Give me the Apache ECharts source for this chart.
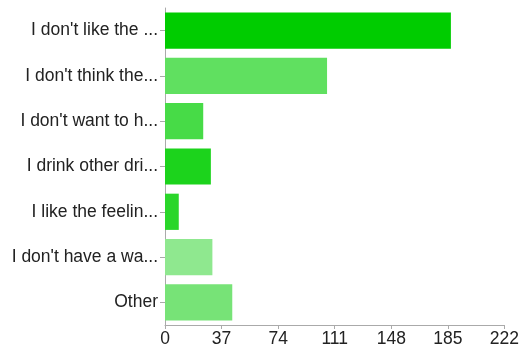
<!DOCTYPE html>
<html><head><meta charset="utf-8">
<script src="https://cdn.jsdelivr.net/npm/echarts@6/dist/echarts.min.js"></script>
<style>html,body{margin:0;padding:0;background:#fff}#c{width:522px;height:351px}</style>
</head><body><div id="c"></div>
<script>
const categories = ["I don't like the ...", "I don't think the...", "I don't want to h...", "I drink other dri...", "I like the feelin...", "I don't have a wa...", "Other"];
const values = [187, 106, 25, 30, 9, 31, 44];
const barColors = ["#00cc00", "#60e060", "#47db47", "#1cd31c", "#2ad62a", "#8fe88f", "#77e377"];
const xTicks = [0, 37, 74, 111, 148, 185, 222];

const chart = echarts.init(document.getElementById('c'));
chart.setOption({
  animation: false,
  grid: {left: 165, right: 16, top: 8, bottom: 26, containLabel: false},
  xAxis: {
    type: 'value', min: 0, max: 222, interval: 37,
    axisLine: {show: true, lineStyle: {color: '#aaaaaa'}},
    axisTick: {show: true, length: 4, lineStyle: {color: '#aaaaaa'}},
    splitLine: {show: false},
    axisLabel: {color: '#222', fontSize: 17.5, fontFamily: 'Liberation Sans, Arial', margin: 5,
      formatter: v => xTicks.includes(v) ? String(v) : ''}
  },
  yAxis: {
    type: 'category', data: categories, inverse: true,
    axisLine: {show: true, lineStyle: {color: '#aaaaaa'}},
    axisTick: {show: true, length: 5, alignWithLabel: true, lineStyle: {color: '#aaaaaa'}},
    axisLabel: {color: '#222', fontSize: 17.5, fontFamily: 'Liberation Sans, Arial', margin: 7}
  },
  series: [{
    type: 'bar', barCategoryGap: '20%',
    data: values.map((v, i) => ({value: v, itemStyle: {color: barColors[i]}}))
  }]
});
</script></body></html>
